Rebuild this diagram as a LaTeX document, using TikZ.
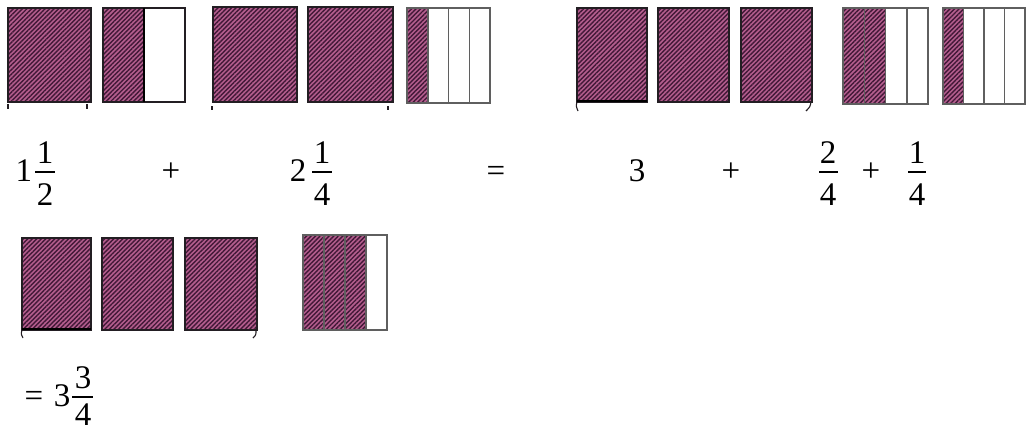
\documentclass[tikz,border=0pt]{standalone}
\usepackage{fontspec}
\setmainfont{Liberation Serif}
\usetikzlibrary{patterns.meta}
\definecolor{pinkc}{RGB}{180,94,142}
\definecolor{stripec}{RGB}{66,24,55}
\definecolor{edgec}{RGB}{35,30,35}
\definecolor{grayedge}{RGB}{95,95,95}
\tikzset{
  hatch/.style={fill=pinkc, postaction={pattern={Lines[angle=45,distance=3.2pt,line width=1.4pt]}, pattern color=stripec}},
  edge/.style={draw=edgec, line width=1.4pt},
  grayline/.style={draw=grayedge, line width=1.5pt},
  divider/.style={draw=grayedge, line width=1.5pt},
  thickdiv/.style={draw=black, line width=2.2pt},
  thickbottom/.style={draw=black, line width=2.4pt},
  tick/.style={draw=edgec, line width=1.1pt},
  txt/.style={inner sep=0pt, anchor=base, font=\fontsize{33}{38}\selectfont},
  bar/.style={draw=black, line width=1.1pt}
}
\newcommand\fullsq[4]{%
  \fill[hatch] (#1,#2) rectangle (#3,#4);
  \draw[edge] (#1,#2) rectangle (#3,#4);}
\newcommand\qbox[5]{%
  \pgfmathsetmacro\qw{(#3-#1)/4}%
  \pgfmathsetmacro\qs{#1+#5*\qw}%
  \fill[hatch] (#1,#2) rectangle (\qs,#4);
  \foreach \i in {1,2,3} {\draw[divider] ({#1+\i*\qw},#2) -- ({#1+\i*\qw},#4);}
  \draw[grayline] (#1,#2) rectangle (#3,#4);}
\begin{document}
\begin{tikzpicture}[x=1pt,y=-1pt]
\useasboundingbox[fill=white] (0,0) rectangle (1026,434);

% ---------- top row ----------
\fullsq{8}{8}{91}{102}
\fill[hatch] (103,8) rectangle (144,102);
\draw[edge] (103,8) rectangle (185,102);
\draw[thickdiv] (144,8) -- (144,102);
\fullsq{213}{7}{297}{102}
\fullsq{308}{7}{393}{102}
\qbox{407}{8}{490}{103}{1}

\fullsq{577}{8}{647}{102}
\draw[thickbottom] (577,101) -- (647,101);
\fullsq{658}{8}{729}{102}
\fullsq{741}{8}{812}{102}
\qbox{843}{8}{928}{104}{2}
\qbox{943}{8}{1025}{104}{1}

% brace remnants
\draw[tick] (8,104) -- (8,109);
\draw[tick] (87,104) -- (87,109);
\draw[tick] (212,106) -- (212,110);
\draw[tick] (388,106) -- (388,110);
\draw[tick] (577,102) .. controls (576,106) .. (578,111);
\draw[tick] (811,102) .. controls (810,107) .. (806,111);

% ---------- equation row ----------
\node[txt] (w1) at (24,181) {1};
\node[txt] (n1) at (45,163) {1};
\draw[bar] (35,172) -- (55,172);
\node[txt] (d1) at (45,205) {2};

\node[txt] (p1) at (171,181) {+};

\node[txt] (w2) at (298,181) {2};
\node[txt] (n2) at (322,163) {1};
\draw[bar] (312,172) -- (332,172);
\node[txt] (d2) at (322,205) {4};

\node[txt] (eq1) at (496,181) {=};
\node[txt] (w3) at (637,181) {3};
\node[txt] (p2) at (731,181) {+};

\node[txt] (n3) at (828,163) {2};
\draw[bar] (819,172) -- (838,172);
\node[txt] (d3) at (828,205) {4};

\node[txt] (p3) at (871,181) {+};

\node[txt] (n4) at (917,163) {1};
\draw[bar] (908,172) -- (926,172);
\node[txt] (d4) at (917,205) {4};

% ---------- bottom row ----------
\fullsq{22}{238}{91}{330}
\draw[thickbottom] (22,329) -- (91,329);
\fullsq{102}{238}{173}{330}
\fullsq{185}{238}{257}{330}
\qbox{303}{235}{387}{330}{3}
\draw[tick] (22,330) .. controls (21,334) .. (23,338);
\draw[tick] (256,330) .. controls (256,335) .. (253,338);

% ---------- result ----------
\node[txt] (eq2) at (34,406) {=};
\node[txt] (w4) at (62,406) {3};
\node[txt] (n5) at (83,388) {3};
\draw[bar] (72,397) -- (93,397);
\node[txt] (d5) at (83,425) {4};
\end{tikzpicture}
\end{document}
